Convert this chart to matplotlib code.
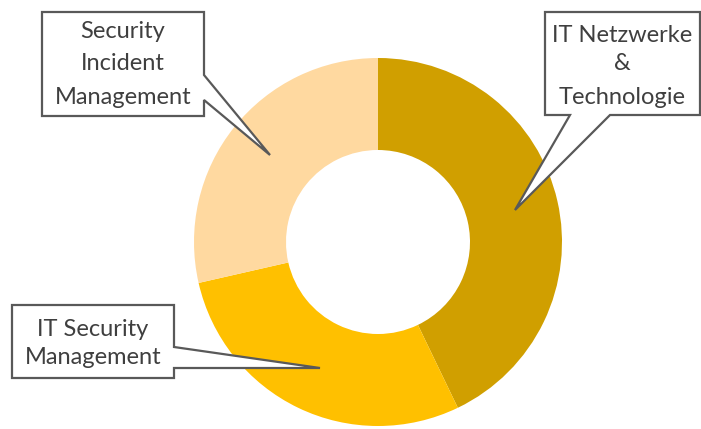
import matplotlib
matplotlib.use("Agg")
import matplotlib.pyplot as plt
from matplotlib.patches import Polygon

# Data
categories = ["IT Netzwerke & Technologie", "IT Security Management", "Security Incident Management"]
values = [3, 2, 2]
colors = ["#D09F00", "#FFC000", "#FFD9A0"]
label_lines = [
    ["IT Netzwerke", "&", "Technologie"],
    ["IT Security", "Management"],
    ["Security", "Incident", "Management"],
]

W, H = 701, 429
fig = plt.figure(figsize=(W / 100, H / 100), dpi=100)
ax = fig.add_axes([0, 0, 1, 1])
ax.set_xlim(0, W)
ax.set_ylim(0, H)
ax.set_aspect("equal")
ax.axis("off")

def py(y):
    return H - y

cx, cy, R = 378, py(242), 184
ax.pie(values, colors=colors, startangle=90, counterclock=False,
       center=(cx, cy), radius=R, wedgeprops=dict(width=R * 0.5, linewidth=0))
ax.set_xlim(0, W)
ax.set_ylim(0, H)

# callout shapes (pixel layout)
callouts = [
    # IT Netzwerke & Technologie
    dict(poly=[(545, 12), (700, 12), (700, 115), (610, 115), (515, 210), (570, 115), (545, 115)],
         cx=622.5, ys=[35, 64, 97]),
    # IT Security Management
    dict(poly=[(12, 305), (174, 305), (174, 347), (320, 368), (174, 368), (174, 378), (12, 378)],
         cx=93, ys=[330, 358]),
    # Security Incident Management
    dict(poly=[(42, 12), (204, 12), (204, 75), (270, 155), (204, 100), (204, 116), (42, 116)],
         cx=123, ys=[32, 64, 97]),
]

for co, lines in zip(callouts, label_lines):
    pts = [(x, py(y)) for x, y in co["poly"]]
    ax.add_patch(Polygon(pts, closed=True, facecolor="white", edgecolor="#595959",
                         linewidth=1.6, joinstyle="miter", zorder=5))
    for y, t in zip(co["ys"], lines):
        ax.text(co["cx"], py(y), t, ha="center", va="center", fontsize=17,
                family="Lato", color="#3F3F3F", zorder=6)

fig.savefig("out.png", dpi=100)
